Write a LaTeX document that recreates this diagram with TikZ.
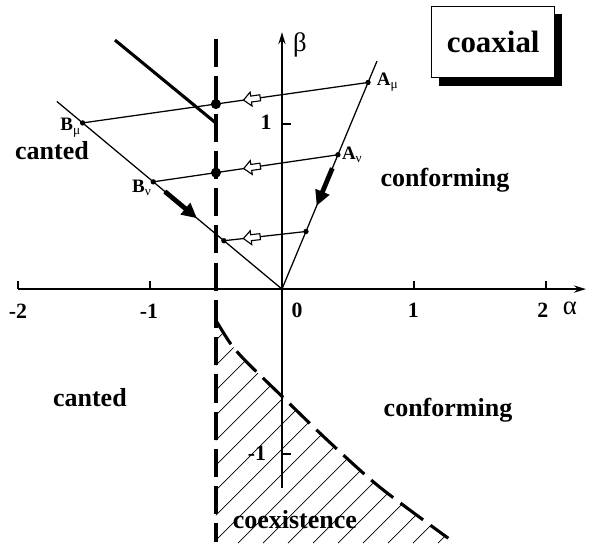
\documentclass[tikz,border=0pt]{standalone}
\usepackage{fontspec}
\setmainfont{Liberation Serif}
\usetikzlibrary{arrows.meta,calc,shadows}
\tikzset{
  axisline/.style  = {-{Stealth[length=3mm,width=1.8mm]},line width=1.2pt},
  thinline/.style  = {line width=0.9pt},
  heavyline/.style = {line width=2.2pt},
  phaseline/.style = {line width=2.2pt,dash pattern=on 20pt off 6.5pt},
  hatchline/.style = {line width=0.45pt},
  bigarr/.style    = {-{Triangle[length=3.8mm,width=3.6mm]},line width=3.4pt},
  regionlbl/.style = {font=\fontsize{18.5}{20}\selectfont\bfseries},
  ticklbl/.style   = {font=\fontsize{15.5}{17}\selectfont\bfseries,inner sep=0pt},
  ptlbl/.style     = {font=\fontsize{13.5}{15}\selectfont\bfseries,inner sep=1pt},
  hollowarr/.pic   = {\draw[line width=0.8pt,fill=white]
      (-0.21cm,0) -- (-0.02cm,0.175cm) -- (-0.02cm,0.075cm) -- (0.21cm,0.075cm)
      -- (0.21cm,-0.075cm) -- (-0.02cm,-0.075cm) -- (-0.02cm,-0.175cm) -- cycle;}
}
\newcommand{\smalldot}[1]{\fill (#1) circle (1.9pt);}
\newcommand{\bigdot}[1]{\fill (#1) circle (3.6pt);}

\begin{document}
\begin{tikzpicture}[x=3.3cm,y=4.125cm]
  \useasboundingbox (-2.136,-1.539) rectangle (2.326,1.752);
  \coordinate (O)    at (0,0);
  \coordinate (Btop) at (-1.705,1.137);
  \coordinate (Bmu)  at (-1.51,1.007);
  \coordinate (Bnu)  at (-0.975,0.65);
  \coordinate (Bth)  at (-0.44,0.293);
  \coordinate (Atop) at (0.72,1.382);
  \coordinate (Amu)  at (0.652,1.252);
  \coordinate (Anu)  at (0.424,0.814);
  \coordinate (Ath)  at (0.182,0.349);
  \coordinate (Dmu)  at ($(Bmu)!0.467!(Amu)$);
  \coordinate (Dnu)  at ($(Bnu)!0.3395!(Anu)$);
  \coordinate (Ktop) at (-1.265,1.509);
  \coordinate (Kend) at (-0.5,1.006);
  \coordinate (Vtop) at (-0.5,1.515);
  \coordinate (Vbot) at (-0.5,-1.535);

  \begin{scope}
    \clip (-0.5,-1.6) -- plot[smooth] coordinates {(-0.5,-0.19) (-0.39,-0.33) (-0.27,-0.44)
      (0,-0.65) (0.35,-0.92) (0.74,-1.2) (1.26,-1.51) (1.32,-1.55)} -- (1.32,-1.6) -- cycle;
    \foreach \k in {-10,...,10}
      \draw[hatchline,xshift=\k*0.625cm+0.55cm] (-0.5,-1.54) -- ++(7cm,7cm);
  \end{scope}

  \draw[axisline] (-2,0) -- (2.303,0);
  \draw[axisline] (0,-1.206) -- (0,1.557);
  \foreach \t in {-2,-1,1,2} \draw[thinline] (\t,0) -- ++(0,0.2cm);
  \foreach \t in {-1,1} \draw[thinline] (0,\t) -- ++(0.22cm,0);

  \draw[thinline] (Btop) -- (O) -- (Atop);
  \draw[thinline] (Bmu) -- (Amu);
  \draw[thinline] (Bnu) -- (Anu);
  \draw[thinline] (Bth) -- (Ath);
  \draw[heavyline] (Ktop) -- (Kend);
  \draw[phaseline] (Vtop) -- (Vbot);
  \draw[phaseline] plot[smooth] coordinates {(-0.5,-0.19) (-0.39,-0.33) (-0.27,-0.44)
      (0,-0.65) (0.35,-0.92) (0.74,-1.2) (1.26,-1.51)};

  \path (Bmu) -- pic[pos=0.593,sloped]{hollowarr} (Amu);
  \path (Bnu) -- pic[pos=0.535,sloped]{hollowarr} (Anu);
  \path (Bth) -- pic[pos=0.34,sloped]{hollowarr} (Ath);
  \draw[bigarr] ($(Bnu)!0.09!(O)$) -- ($(Bnu)!0.34!(O)$);
  \draw[bigarr] ($(Anu)!0.1!(O)$) -- ($(Anu)!0.38!(O)$);

  \foreach \p in {Bmu,Bnu,Bth,Amu,Anu,Ath} {\smalldot{\p}}
  \bigdot{Dmu}
  \bigdot{Dnu}

  \node[ptlbl,anchor=west,xshift=0.18cm] (lAmu) at (Amu) {A\textsubscript{\mdseries μ}};
  \node[ptlbl,anchor=west,xshift=0.06cm] (lAnu) at (Anu) {A\textsubscript{\mdseries ν}};
  \node[ptlbl,anchor=east,yshift=-0.12cm] (lBmu) at (Bmu) {B\textsubscript{\mdseries μ}};
  \node[ptlbl,anchor=east,yshift=-0.15cm] (lBnu) at (Bnu) {B\textsubscript{\mdseries ν}};

  \node[ticklbl] (xm2) at (-2.0,-0.133) {-2};
  \node[ticklbl] (xm1) at (-1.008,-0.133) {-1};
  \node[ticklbl] (x0)  at (0.114,-0.127) {0};
  \node[ticklbl] (x1)  at (0.996,-0.127) {1};
  \node[ticklbl] (x2)  at (1.977,-0.127) {2};
  \node[ticklbl] (y1)  at (-0.121,1.012) {1};
  \node[ticklbl] (ym1) at (-0.189,-0.994) {-1};
  \node[font=\fontsize{19}{21}\selectfont,inner sep=0pt] (alph) at (2.182,-0.115) {α};
  \node[font=\fontsize{19}{21}\selectfont,inner sep=0pt] (bet)  at (0.136,1.479) {β};

  \node[regionlbl] (cantA) at (-1.742,0.842) {canted};
  \node[regionlbl] (confA) at (1.235,0.66) {conforming};
  \node[regionlbl] (cantB) at (-1.455,-0.655) {canted};
  \node[regionlbl] (confB) at (1.258,-0.733) {conforming};
  \node[regionlbl] (coex)  at (0.098,-1.4) {coexistence};

  \node[draw,line width=0.8pt,fill=white,minimum width=3.08cm,minimum height=1.78cm,
        font=\fontsize{22}{24}\selectfont\bfseries,
        drop shadow={shadow xshift=0.18cm,shadow yshift=-0.2cm,fill=black,opacity=1}]
        (coax) at (1.6,1.497) {coaxial};
\end{tikzpicture}
\end{document}
